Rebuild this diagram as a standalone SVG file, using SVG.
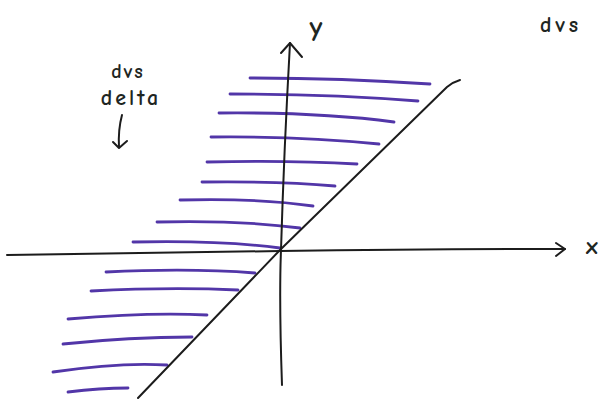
<svg xmlns="http://www.w3.org/2000/svg" width="603" height="399" viewBox="0 0 603 399">
<style>
.ax{fill:none;stroke:#1c1c1c;stroke-width:2;stroke-linecap:round;stroke-linejoin:round}
.h{fill:none;stroke:#5236a8;stroke-width:2.8;stroke-linecap:round}
.t{font-family:"Comic Neue","DejaVu Sans","Liberation Sans",sans-serif;fill:#1e2622;font-weight:bold}
</style>
<rect width="603" height="399" fill="#fff"/>
<g id="hatching">
<path class="h" d="M250 78 Q340 78 430 84"/>
<path class="h" d="M230 94 Q330 94 418 101"/>
<path class="h" d="M219 113 Q320 112 394 122"/>
<path class="h" d="M211 137 Q300 136 379 144"/>
<path class="h" d="M207 162 Q290 160 357 164"/>
<path class="h" d="M202 182 Q280 181 335 186"/>
<path class="h" d="M180 200 Q260 198 313 206"/>
<path class="h" d="M157 222 Q240 220 300 228"/>
<path class="h" d="M133 242 Q220 240 280 248"/>
<path class="h" d="M106 272 Q190 268 255 273"/>
<path class="h" d="M91 291 Q170 287 238 290"/>
<path class="h" d="M68 319 Q150 312 207 315"/>
<path class="h" d="M63 344 Q130 337 192 337"/>
<path class="h" d="M53 372 Q120 362 167 365"/>
<path class="h" d="M68 392 Q100 388 128 388"/>
</g>
<g id="connectors">
<path class="ax" d="M7 255 Q150 253 280 251 Q420 249 565 249"/>
<path class="ax" d="M556 243 L565 249 L556 256"/>
<path class="ax" d="M282 385 Q279 300 281 250 Q284 150 290 43"/>
<path class="ax" d="M281 53 L290 43 L302 57"/>
<path class="ax" d="M138 398 L280 250 L447 87 Q453 82 460 80"/>
<path class="ax" d="M122 115 Q118 130 119 147"/>
<path class="ax" d="M113 142 L119 148 L127 141"/>
</g>
<g id="labels">
<text class="t" x="316" y="36" font-size="28" text-anchor="middle">y</text>
<text class="t" x="592" y="254" font-size="24" text-anchor="middle">x</text>
<text class="t" x="128" y="78" font-size="20" letter-spacing="2" text-anchor="middle">dvs</text>
<text class="t" x="131" y="105" font-size="22" letter-spacing="3" text-anchor="middle">delta</text>
<text class="t" x="561" y="32" font-size="22" letter-spacing="4" text-anchor="middle">dvs</text>
</g>
</svg>
